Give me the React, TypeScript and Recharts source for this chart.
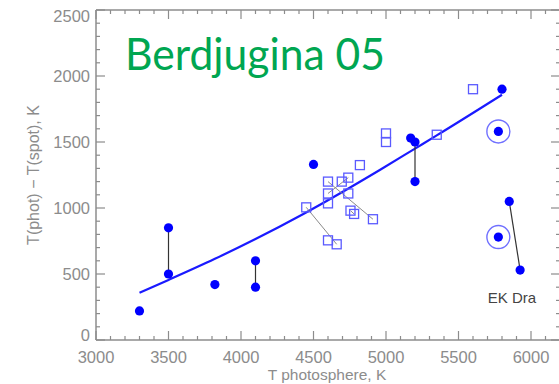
import React from 'react';
import { ComposedChart, XAxis, YAxis, Scatter, Line } from 'recharts';

// values: T photosphere (K) vs T(phot) - T(spot) (K)
const filledStars = [
  { t: 3300, dt: 220 }, { t: 3500, dt: 850 }, { t: 3500, dt: 500 },
  { t: 3820, dt: 420 }, { t: 4100, dt: 600 }, { t: 4100, dt: 400 },
  { t: 4500, dt: 1330 }, { t: 5170, dt: 1530 }, { t: 5200, dt: 1500 },
  { t: 5200, dt: 1200 }, { t: 5800, dt: 1900 }, { t: 5850, dt: 1050 },
  { t: 5925, dt: 530 },
];
const ringedStars = [{ t: 5775, dt: 1580 }, { t: 5775, dt: 780 }];
const openStars = [
  { t: 4450, dt: 1005 }, { t: 4600, dt: 1200 }, { t: 4600, dt: 1110 },
  { t: 4600, dt: 1035 }, { t: 4600, dt: 755 }, { t: 4660, dt: 725 },
  { t: 4695, dt: 1200 }, { t: 4740, dt: 1230 }, { t: 4740, dt: 1110 },
  { t: 4755, dt: 980 }, { t: 4780, dt: 955 }, { t: 4910, dt: 915 },
  { t: 4820, dt: 1325 }, { t: 5000, dt: 1565 }, { t: 5000, dt: 1500 },
  { t: 5350, dt: 1555 }, { t: 5600, dt: 1900 },
];
const darkLinks = [
  [{ t: 3500, dt: 850 }, { t: 3500, dt: 500 }],
  [{ t: 4100, dt: 600 }, { t: 4100, dt: 400 }],
  [{ t: 5200, dt: 1500 }, { t: 5200, dt: 1200 }],
  [{ t: 5850, dt: 1050 }, { t: 5925, dt: 530 }],
];
const greyLinks = [
  [{ t: 4450, dt: 1005 }, { t: 4660, dt: 725 }],
  [{ t: 4600, dt: 1200 }, { t: 4910, dt: 915 }],
  [{ t: 4600, dt: 1110 }, { t: 4740, dt: 1230 }],
  [{ t: 4755, dt: 980 }, { t: 4780, dt: 955 }],
];
const fitCurve = [
  { t: 3300, dt: 358 }, { t: 3500, dt: 455 }, { t: 3820, dt: 615 },
  { t: 4100, dt: 765 }, { t: 4430, dt: 955 }, { t: 4960, dt: 1290 },
  { t: 5200, dt: 1450 }, { t: 5350, dt: 1550 }, { t: 5800, dt: 1858 },
];

const xMajor = [3000, 3500, 4000, 4500, 5000, 5500, 6000];
const yMajor = [0, 500, 1000, 1500, 2000, 2500];
const xTicks: number[] = [];
for (let v = 3000; v <= 6200; v += 100) xTicks.push(v);
const yTicks: number[] = [];
for (let v = 0; v <= 2500; v += 100) yTicks.push(v);

const AX = '#8c8c8c';
const BLUE = '#0000ff';
const FONT = '"Liberation Sans", Arial, sans-serif';

const BottomTick = ({ x, y, payload }: any) => {
  const major = xMajor.includes(payload.value);
  return (
    <g>
      <line x1={x} y1={y} x2={x} y2={y - (major ? 9 : 4)} stroke={AX} strokeWidth={1.2} />
      {major && (
        <text x={x} y={y + 23} textAnchor="middle" fill={AX} fontSize={16.5} fontFamily={FONT}>
          {payload.value}
        </text>
      )}
    </g>
  );
};
const TopTick = ({ x, y, payload }: any) => {
  const major = xMajor.includes(payload.value);
  return <line x1={x} y1={y} x2={x} y2={y + (major ? 9 : 4)} stroke={AX} strokeWidth={1.2} />;
};
const LeftTick = ({ x, y, payload }: any) => {
  const major = yMajor.includes(payload.value);
  const shift = payload.value === 0 ? -5 : payload.value === 2500 ? 6 : 0;
  return (
    <g>
      <line x1={x} y1={y} x2={x + (major ? 9 : 4)} y2={y} stroke={AX} strokeWidth={1.2} />
      {major && (
        <text x={x - 6} y={y + 6 + shift} textAnchor="end" fill={AX} fontSize={16.5} fontFamily={FONT}>
          {payload.value}
        </text>
      )}
    </g>
  );
};
const RightTick = ({ x, y, payload }: any) => {
  const major = yMajor.includes(payload.value);
  return <line x1={x} y1={y} x2={x - (major ? 9 : 4)} y2={y} stroke={AX} strokeWidth={1.2} />;
};

const FilledDot = ({ cx, cy }: any) => <circle cx={cx} cy={cy} r={4.6} fill={BLUE} />;
const RingDot = ({ cx, cy }: any) => (
  <g>
    <circle cx={cx} cy={cy} r={11.5} fill="none" stroke="#7070ff" strokeWidth={1.4} />
    <circle cx={cx} cy={cy} r={4.6} fill={BLUE} />
  </g>
);
const OpenSquare = ({ cx, cy }: any) => (
  <rect x={cx - 4.5} y={cy - 4.5} width={9} height={9} fill="none" stroke="#5a5aff" strokeWidth={1.3} />
);
const NoDot = () => <g />;

export default function App() {
  return (
    <div style={{ position: 'absolute', left: 0, top: 0, width: 559, height: 384, overflow: 'hidden', background: '#fff' }}>
      <ComposedChart width={570} height={384} margin={{ top: 9, right: 9, bottom: 43, left: 95 }}>
        <XAxis xAxisId="b" dataKey="t" type="number" domain={[3000, 6200]} ticks={xTicks} interval={0}
          orientation="bottom" height={1} tickSize={0} tickMargin={0} tickLine={false}
          axisLine={{ stroke: AX, strokeWidth: 1.5 }} tick={<BottomTick />} />
        <XAxis xAxisId="t" dataKey="t" type="number" domain={[3000, 6200]} ticks={xTicks} interval={0}
          orientation="top" height={1} tickSize={0} tickMargin={0} tickLine={false}
          axisLine={{ stroke: AX, strokeWidth: 1.5 }} tick={<TopTick />} />
        <YAxis yAxisId="l" dataKey="dt" type="number" domain={[0, 2500]} ticks={yTicks} interval={0}
          orientation="left" width={1} tickSize={0} tickMargin={0} tickLine={false}
          axisLine={{ stroke: AX, strokeWidth: 1.5 }} tick={<LeftTick />} />
        <YAxis yAxisId="r" dataKey="dt" type="number" domain={[0, 2500]} ticks={yTicks} interval={0}
          orientation="right" width={1} tickSize={0} tickMargin={0} tickLine={false}
          axisLine={{ stroke: AX, strokeWidth: 1.5 }} tick={<RightTick />} />

        <Scatter xAxisId="t" yAxisId="r" data={fitCurve} shape={<NoDot />} isAnimationActive={false} />

        {darkLinks.map((pair, i) => (
          <Scatter key={'d' + i} xAxisId="b" yAxisId="l" data={pair} line={{ stroke: '#333', strokeWidth: 1.2 }}
            lineType="joint" shape={<NoDot />} isAnimationActive={false} />
        ))}
        {greyLinks.map((pair, i) => (
          <Scatter key={'g' + i} xAxisId="b" yAxisId="l" data={pair} line={{ stroke: '#8a8a8a', strokeWidth: 1 }}
            lineType="joint" shape={<NoDot />} isAnimationActive={false} />
        ))}

        <Line xAxisId="b" yAxisId="l" data={fitCurve} dataKey="dt" type="monotone" stroke="#1a1aff"
          strokeWidth={2.2} dot={false} activeDot={false} isAnimationActive={false} />

        <Scatter xAxisId="b" yAxisId="l" data={openStars} shape={<OpenSquare />} isAnimationActive={false} />
        <Scatter xAxisId="b" yAxisId="l" data={filledStars} shape={<FilledDot />} isAnimationActive={false} />
        <Scatter xAxisId="b" yAxisId="l" data={ringedStars} shape={<RingDot />} isAnimationActive={false} />
      </ComposedChart>

      <svg width={559} height={384} style={{ position: 'absolute', left: 0, top: 0, pointerEvents: 'none' }}>
        <text x={125} y={70} fill="#00a651" fontSize={44} fontFamily="Lato, 'Open Sans', sans-serif"
          textLength={260} lengthAdjust="spacingAndGlyphs">Berdjugina 05</text>
        <text x={33} y={175} transform="rotate(-90 33 175)" textAnchor="middle" dominantBaseline="central"
          fill={AX} fontSize={16} fontFamily={FONT}>T(phot) − T(spot), K</text>
        <text x={327} y={380} textAnchor="middle" fill={AX} fontSize={15.5} fontFamily={FONT}>T photosphere, K</text>
        <text x={512} y={303} textAnchor="middle" fill="#444" fontSize={15} fontFamily={FONT}>EK Dra</text>
      </svg>
    </div>
  );
}
